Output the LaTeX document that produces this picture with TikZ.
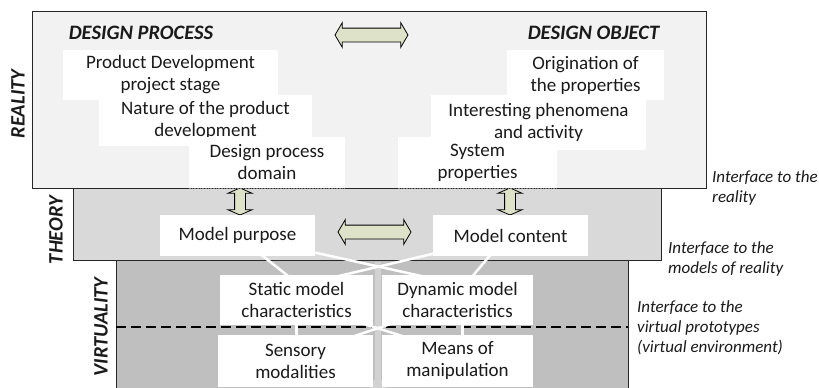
\documentclass[tikz,border=0pt]{standalone}
\usepackage{fontspec}
\setmainfont{Carlito}
\usetikzlibrary{shapes.arrows,calc}
\pgfdeclarelayer{bg}
\pgfdeclarelayer{mid}
\pgfsetlayers{bg,mid,main}
\definecolor{realfill}{HTML}{F2F2F2}
\definecolor{theofill}{HTML}{D9D9D9}
\definecolor{virtfill}{HTML}{BFBFBF}
\definecolor{barfill}{HTML}{D2D2D2}
\definecolor{arrfill}{HTML}{DDE2C8}
\definecolor{txt}{HTML}{1A1A1A}
\begin{document}
\begin{tikzpicture}[x=1bp,y=-1bp,
  frame/.style={draw=black!85,line width=0.9bp},
  wtext/.style={inner sep=0pt,align=center,text=txt,
    font=\fontsize{19bp}{22bp}\selectfont},
  wbox/.style={wtext,fill=white},
  heading/.style={font=\fontsize{20.5bp}{24bp}\selectfont\bfseries\itshape,text=txt},
  layername/.style={font=\fontsize{20.5bp}{24bp}\selectfont\bfseries\itshape,text=txt,rotate=90},
  sidenote/.style={font=\fontsize{17bp}{20bp}\selectfont\itshape,text=txt,align=left,anchor=west,inner sep=0pt},
  harrow/.style={double arrow,draw=black,fill=arrfill,line width=0.8bp,inner sep=6.5bp,
    double arrow head extend=5.5bp,double arrow tip angle=119,minimum height=73bp},
  varrow/.style={double arrow,draw=black,fill=arrfill,line width=0.8bp,inner sep=5bp,
    double arrow head extend=6.5bp,double arrow tip angle=133,minimum height=27bp,
    shape border rotate=90},
  wline/.style={draw=white,line width=2.5bp}]
\useasboundingbox (0,0) rectangle (819,387);

% ---------- layer regions ----------
\begin{pgfonlayer}{bg}
  \fill[virtfill] (116,260) rectangle (628,390);
  \draw[frame] (116,390) -- (116,260) -- (628,260) -- (628,390);
  \filldraw[frame,fill=theofill] (73,188) rectangle (661,260);
  \filldraw[frame,fill=realfill] (32,11) rectangle (706,188);
  \coordinate (dl) at (116,327);
  \coordinate (dr) at (628,327);
  \draw[black,line width=1.3bp,dash pattern=on 10bp off 5bp] (dl) -- (dr);
\end{pgfonlayer}

% ---------- rotated layer names ----------
\node[layername] (lreal) at (18,104) {REALITY};
\node[layername] (ltheo) at (56,230) {THEORY};
\node[layername] (lvirt) at (101,327) {VIRTUALITY};

% ---------- headings ----------
\node[heading] (hproc) at (141,33) {DESIGN PROCESS};
\node[heading] (hobj) at (593.5,33) {DESIGN OBJECT};

% ---------- block arrows ----------
\node[harrow] (atop) at (371.5,35) {};
\node[harrow] (amid) at (374.5,232) {};
\node[varrow] (avl) at (240,201.5) {};
\node[varrow] (avr) at (510,201.5) {};

% ---------- reality boxes ----------
\node[wbox,minimum width=215bp,minimum height=50bp] (pdps) at (170.5,75) {Product Development\\project stage};
\node[wbox,minimum width=213bp,minimum height=51bp] (npd) at (205.5,120) {Nature of the product\\development};
\node[wbox,minimum width=156bp,minimum height=51bp] (dpd) at (267,162.5) {Design process\\domain};
\node[wbox,minimum width=157bp,minimum height=50bp] (orig) at (585.5,75) {Origination of\\the properties};
\node[wbox,minimum width=159bp,minimum height=51bp] (sysp) at (477.5,162.5) {};
\node[wbox,minimum width=215bp,minimum height=55bp] (ipa) at (538.5,122.5) {Interesting phenomena\\and activity};
\node[wtext] (syspt) at (sysp.center) {System\\properties};
\draw[gray,densely dotted,line width=0.6bp] (dpd.south west) -- (dpd.south east);
\draw[gray,densely dotted,line width=0.6bp] (sysp.south west) -- (sysp.south east);

% ---------- theory boxes ----------
\node[wbox,minimum width=155bp,minimum height=41bp] (purpose) at (237.5,235.5) {Model purpose};
\node[wbox,minimum width=155bp,minimum height=41bp] (content) at (510.5,235.5) {Model content};

% ---------- virtuality boxes ----------
\node[wbox,minimum width=153bp,minimum height=50bp] (static) at (296.5,300) {Static model\\characteristics};
\node[wbox,minimum width=151bp,minimum height=50bp] (dynamic) at (457.5,300) {Dynamic model\\characteristics};
\node[wbox,minimum width=155bp,minimum height=52bp] (sensory) at (295.5,361) {Sensory\\modalities};
\node[wbox,minimum width=151bp,minimum height=52bp] (means) at (457.5,361) {Means of\\manipulation};

% ---------- bar and white connectors ----------
\begin{pgfonlayer}{mid}
  \fill[barfill] (375,262) rectangle (381,390);
  \fill[barfill] (369,380) rectangle (387,390);
  \draw[wline] ([shift={(12,10)}]purpose.center) -- ([shift={(3,-15)}]static.center);
  \draw[wline] (purpose.center) -- ([shift={(0,-16)}]dynamic.center);
  \draw[wline] (content.center) -- ([shift={(0,-14)}]static.center);
  \draw[wline] ([shift={(-7.5,4.5)}]content.center) -- ([shift={(7.5,-15)}]dynamic.center);
  \draw[wline] ([shift={(40,15)}]static.center) -- ([shift={(-40,-20)}]means.center);
  \draw[wline] ([shift={(-40,15)}]dynamic.center) -- ([shift={(44,-20)}]sensory.center);
  \draw[wline] (static.center) -- (static.center |- sensory.center);
  \draw[wline] ([xshift=5bp]dynamic.center) -- ([xshift=5bp]dynamic.center |- means.center);
\end{pgfonlayer}

% ---------- interface notes ----------
\node[sidenote] (n1) at (712,188) {Interface to the\\reality};
\node[sidenote] (n2) at (668,258.5) {Interface to the\\models of reality};
\node[sidenote] (n3) at (637,328) {Interface to the\\virtual prototypes\\(virtual environment)};
\end{tikzpicture}
\end{document}
